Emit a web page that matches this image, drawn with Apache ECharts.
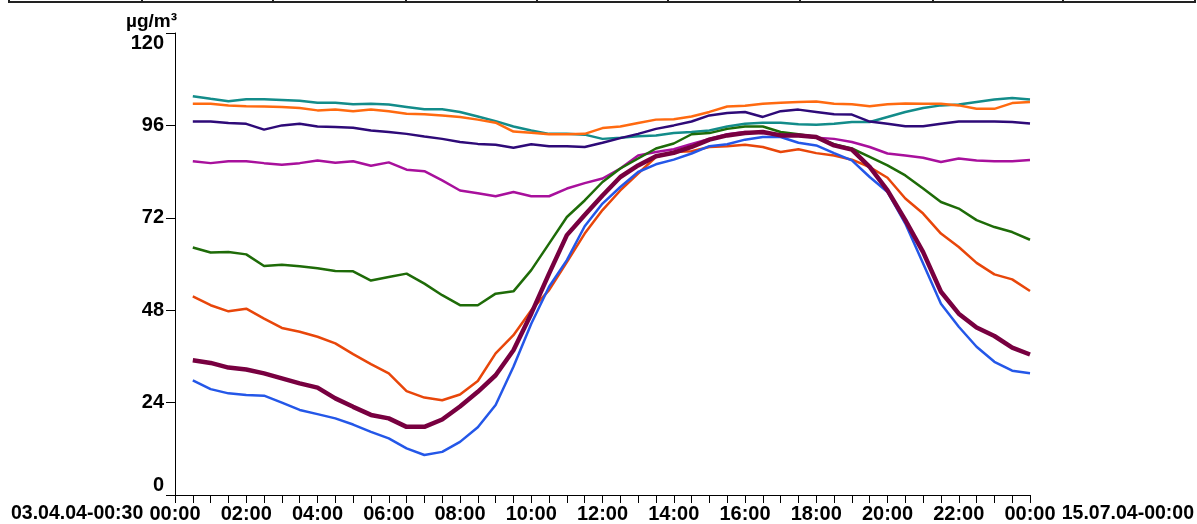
<!DOCTYPE html>
<html><head><meta charset="utf-8">
<script src="https://cdn.jsdelivr.net/npm/echarts@6/dist/echarts.min.js"></script>
<style>html,body{margin:0;padding:0;background:#fff}#c{width:1197px;height:524px}</style>
</head><body><div id="c"></div>
<script>
const categories = ['00:00','00:30','01:00','01:30','02:00','02:30','03:00','03:30','04:00','04:30','05:00','05:30','06:00','06:30','07:00','07:30','08:00','08:30','09:00','09:30','10:00','10:30','11:00','11:30','12:00','12:30','13:00','13:30','14:00','14:30','15:00','15:30','16:00','16:30','17:00','17:30','18:00','18:30','19:00','19:30','20:00','20:30','21:00','21:30','22:00','22:30','23:00','23:30','00:00'];
const yTicks = [0, 24, 48, 72, 96, 120];
const unitLabel = 'µg/m³';
const startLabel = '03.04.04-00:30';
const endLabel = '15.07.04-00:00';

const teal = [null,103.6,102.9,102.3,102.8,102.8,102.6,102.4,101.9,101.9,101.5,101.6,101.4,100.8,100.2,100.2,99.5,98.3,97.1,95.7,94.7,93.8,93.8,93.6,92.5,92.8,93.2,93.4,94.0,94.3,94.7,95.7,96.4,96.7,96.7,96.3,96.2,96.4,96.9,96.9,98.2,99.5,100.5,101.2,101.4,102.1,102.7,103.1,102.7];
const orange = [null,101.6,101.6,101.2,101.0,100.9,100.8,100.5,99.9,100.1,99.7,100.1,99.7,99.0,98.9,98.6,98.2,97.5,96.7,94.4,94.1,93.7,93.7,93.8,95.3,95.7,96.6,97.5,97.6,98.3,99.5,100.9,101.1,101.6,101.9,102.1,102.2,101.6,101.5,101.0,101.5,101.7,101.6,101.6,101.2,100.3,100.3,101.8,102.1];
const indigo = [null,97.0,97.0,96.6,96.4,94.9,96.0,96.4,95.7,95.6,95.4,94.7,94.3,93.8,93.1,92.5,91.7,91.2,91.0,90.2,91.1,90.6,90.6,90.4,91.5,92.7,93.8,95.1,96.0,97.0,98.6,99.2,99.5,98.2,99.7,100.1,99.5,98.9,98.8,97.0,96.4,95.8,95.8,96.4,97.0,97.0,97.0,96.9,96.5];
const magenta = [null,86.7,86.2,86.7,86.7,86.2,85.8,86.2,86.9,86.3,86.7,85.5,86.4,84.5,84.1,81.7,79.1,78.4,77.6,78.7,77.6,77.6,79.6,81.0,82.2,84.8,88.2,89.1,89.8,91.2,92.5,93.7,94.3,94.0,93.7,93.4,92.8,92.5,91.7,90.4,88.7,88.2,87.6,86.5,87.4,86.9,86.7,86.7,87.0];
const green = [null,64.3,63.0,63.1,62.5,59.5,59.8,59.4,58.9,58.2,58.1,55.7,56.6,57.5,54.9,51.9,49.3,49.3,52.3,52.9,58.4,65.3,72.2,76.5,81.3,84.8,87.4,90.0,91.3,93.7,94.0,95.1,95.7,95.7,94.3,93.7,93.0,91.1,90.0,87.8,85.6,83.0,79.6,76.1,74.4,71.4,69.6,68.3,66.3];
const orangeRed = [null,51.6,49.3,47.7,48.4,45.8,43.4,42.4,41.1,39.4,36.6,34.0,31.6,27.0,25.3,24.6,26.1,29.6,36.8,41.5,48.0,53.2,60.5,67.9,74.0,79.1,83.5,87.8,89.1,89.3,90.4,90.6,91.0,90.4,89.1,89.8,88.8,88.2,87.1,85.2,82.4,77.0,73.1,67.9,64.4,60.3,57.3,56.0,53.0];
const blue = [null,29.8,27.5,26.4,26.0,25.8,24.0,22.1,21.0,19.9,18.3,16.4,14.7,12.1,10.4,11.2,13.8,17.6,23.4,33.3,44.5,54.1,61.0,69.8,75.7,80.0,83.9,85.9,87.1,88.7,90.6,91.1,92.3,93.0,93.0,91.5,90.8,88.8,86.9,82.6,78.7,70.5,60.1,49.7,43.7,38.5,34.6,32.3,31.6];
const maroon = [null,35.0,34.3,33.1,32.6,31.6,30.3,29.0,27.9,25.1,22.9,20.8,19.9,17.7,17.7,19.6,23.0,26.8,31.1,37.6,47.1,57.5,67.5,72.7,77.8,82.6,85.6,88.0,88.9,90.4,92.3,93.4,94.0,94.3,93.4,93.4,93.0,90.8,89.7,85.2,79.1,71.4,63.1,52.8,47.1,43.5,41.3,38.3,36.5];

const seriesDefs = [
  {name:'teal', data:teal, color:'#138C8A', width:2.5},
  {name:'orange', data:orange, color:'#FF6A10', width:2.5},
  {name:'indigo', data:indigo, color:'#2E0A78', width:2.5},
  {name:'magenta', data:magenta, color:'#A8109C', width:2.5},
  {name:'green', data:green, color:'#1E6B08', width:2.5},
  {name:'orangeRed', data:orangeRed, color:'#E8460A', width:2.5},
  {name:'blue', data:blue, color:'#2457E8', width:2.5},
  {name:'maroon', data:maroon, color:'#780040', width:4.5}
];

const FONT = "'Liberation Sans', Arial, sans-serif";
const chart = echarts.init(document.getElementById('c'), null, {renderer:'canvas'});

const dividerXs = [9, 142, 273, 406, 537, 668, 800, 933, 1063, 1195];
const graphics = [
  {type:'line', shape:{x1:9, y1:2, x2:1195, y2:2}, style:{stroke:'#222', lineWidth:2}, silent:true}
];
dividerXs.forEach(x => graphics.push({type:'line', shape:{x1:x, y1:0, x2:x, y2:3}, style:{stroke:'#222', lineWidth:2}, silent:true}));
graphics.push({type:'text', left:11, top:504, style:{text:startLabel, font:'bold 19.5px ' + FONT, fill:'#000'}});
graphics.push({type:'text', right:3, top:504, style:{text:endLabel, font:'bold 19.5px ' + FONT, fill:'#000'}});

chart.setOption({
  animation:false,
  backgroundColor:'#fff',
  grid:{left:175, right:167, top:33, bottom:29, containLabel:false},
  xAxis:{
    type:'category', data:categories, boundaryGap:false,
    axisLine:{lineStyle:{color:'#000', width:1}},
    axisTick:{show:true, interval:0, length:8, lineStyle:{color:'#000'}},
    axisLabel:{interval:3, margin:9, fontSize:20, fontWeight:'bold', fontFamily:FONT, color:'#000'},
    splitLine:{show:false}
  },
  yAxis:{
    type:'value', min:yTicks[0], max:yTicks[yTicks.length-1], interval:24,
    name:unitLabel, nameLocation:'end', nameGap:11,
    nameTextStyle:{fontSize:19, fontWeight:'bold', fontFamily:FONT, color:'#000', align:'right', verticalAlign:'middle', padding:[0,-2,0,0]},
    axisLine:{show:true, lineStyle:{color:'#000', width:1}},
    axisTick:{show:true, length:9, lineStyle:{color:'#000'}},
    axisLabel:{margin:11, fontSize:20, fontWeight:'bold', fontFamily:FONT, color:'#000', verticalAlignMaxLabel:'top', verticalAlignMinLabel:'bottom'},
    splitLine:{show:false}
  },
  series: seriesDefs.map(s => ({
    name:s.name, type:'line', data:s.data, symbol:'none', showSymbol:false,
    lineStyle:{color:s.color, width:s.width}, itemStyle:{color:s.color}, silent:true
  })),
  graphic: graphics
});
</script>
</body></html>
